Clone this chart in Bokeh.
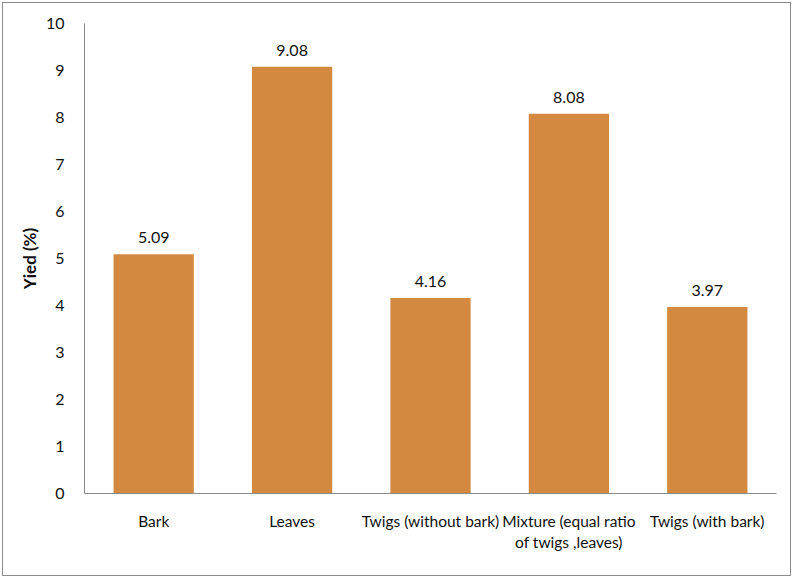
from bokeh.plotting import figure
from bokeh.models import ColumnDataSource
from bokeh.core.properties import value
from bokeh.embed import file_html
from bokeh.resources import INLINE

categories = ["Bark", "Leaves", "Twigs (without bark)",
              "Mixture (equal ratio\nof twigs ,leaves)", "Twigs (with bark)"]
yields = [5.09, 9.08, 4.16, 8.08, 3.97]
value_labels = ["5.09", "9.08", "4.16", "8.08", "3.97"]

FONT = "Lato"

src = ColumnDataSource(dict(cat=categories, y=yields, lab=value_labels))

p = figure(x_range=categories, y_range=(0, 10), width=789, height=574,
           output_backend="svg", toolbar_location=None,
           min_border_left=81, min_border_right=16, min_border_top=20, min_border_bottom=84)
p.styles = {"border": "1px solid #8c8c8c", "margin-left": "2px", "margin-top": "2px"}

p.vbar(x="cat", top="y", width=0.58, source=src, fill_color="#D38940", line_color=None)
p.text(x="cat", y="y", text="lab", source=src, text_align="center", text_baseline="bottom",
       y_offset=-11, text_font=value(FONT), text_font_size="16px", text_color="#111111")

p.outline_line_color = None
p.xgrid.grid_line_color = None
p.ygrid.grid_line_color = None

p.yaxis.ticker = list(range(0, 11))
p.yaxis.axis_line_color = "#888888"
p.yaxis.major_tick_line_color = None
p.yaxis.minor_tick_line_color = None
p.yaxis.major_label_standoff = 14
p.yaxis.major_label_text_font = FONT
p.yaxis.major_label_text_font_size = "16px"
p.yaxis.major_label_text_color = "#111111"
p.yaxis.axis_label = "Yied (%)"
p.yaxis.axis_label_text_font = FONT
p.yaxis.axis_label_text_font_size = "17px"
p.yaxis.axis_label_text_font_style = "bold"
p.yaxis.axis_label_text_color = "#111111"
p.yaxis.axis_label_standoff = 3

p.xaxis.axis_line_color = "#888888"
p.xaxis.major_tick_line_color = None
p.xaxis.minor_tick_line_color = None
p.xaxis.major_label_standoff = 12
p.xaxis.major_label_text_font = FONT
p.xaxis.major_label_text_font_size = "15.5px"
p.xaxis.major_label_text_color = "#111111"

open("out.html", "w").write(file_html(p, INLINE))
